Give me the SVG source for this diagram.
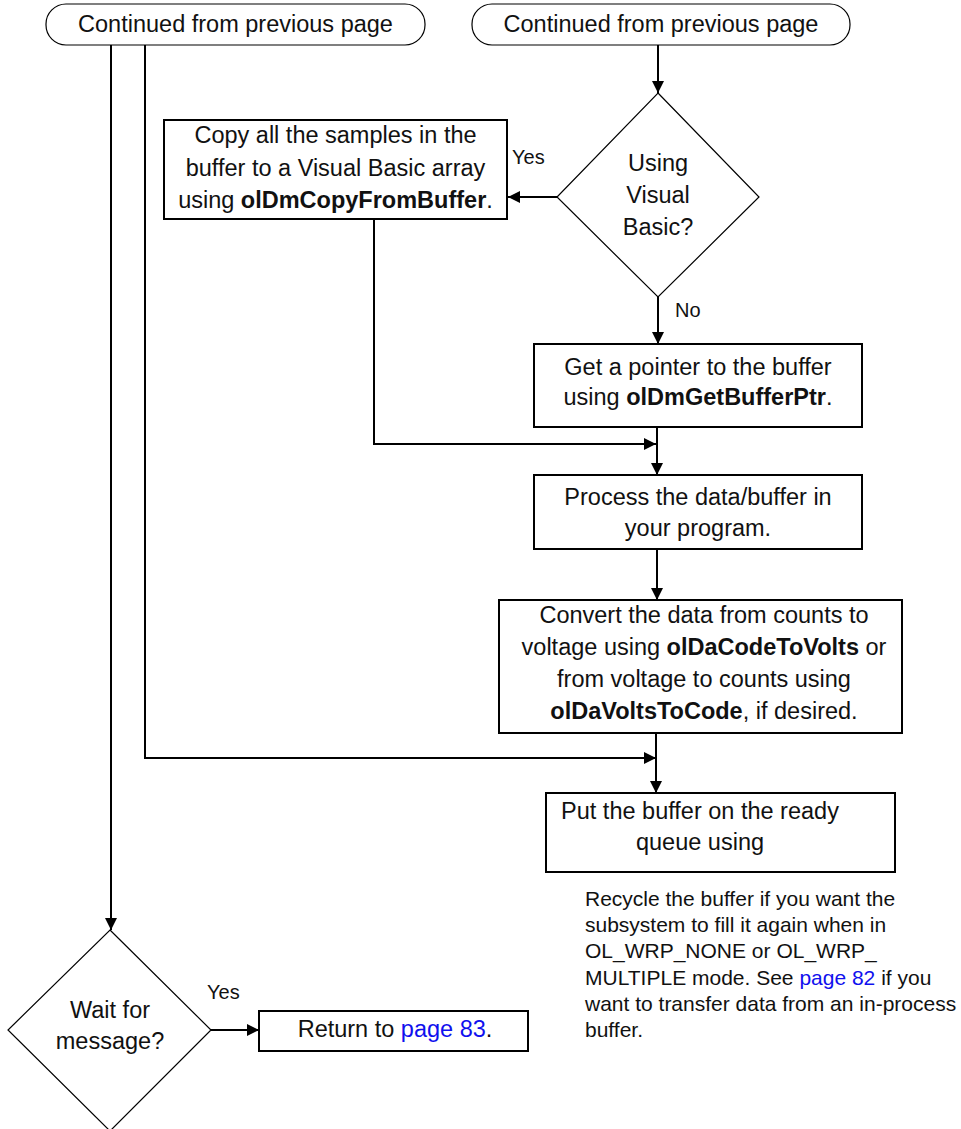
<svg xmlns="http://www.w3.org/2000/svg" width="961" height="1129" viewBox="0 0 961 1129">
<style>
text{font-family:"Liberation Sans",Arial,sans-serif;fill:#111}
.t{font-size:23.5px;text-anchor:middle}
.s{font-size:20px}
.n{font-size:21px}
.b{font-weight:bold}
.lk{fill:#1010ee}
.box{fill:#fff;stroke:#000;stroke-width:2}
.dia{fill:#fff;stroke:#000;stroke-width:1.2}
.term{fill:#fff;stroke:#000;stroke-width:1.2}
.c{fill:none;stroke:#000;stroke-width:2}
</style>
<defs>
<marker id="ah" markerUnits="userSpaceOnUse" markerWidth="14" markerHeight="14" viewBox="0 0 14 14" refX="13" refY="7" orient="auto">
<path d="M1,1 L13,7 L1,13 Z" fill="#000"/>
</marker>
</defs>
<g id="connectors">
<path class="c" d="M658,45 V93" marker-end="url(#ah)"/>
<path class="c" d="M557,197 H508" marker-end="url(#ah)"/>
<path class="c" d="M658,297 V344" marker-end="url(#ah)"/>
<path class="c" d="M374,219 V444 H656" marker-end="url(#ah)"/>
<path class="c" d="M657,427 V475" marker-end="url(#ah)"/>
<path class="c" d="M657,549 V600" marker-end="url(#ah)"/>
<path class="c" d="M145,45 V758 H656" marker-end="url(#ah)"/>
<path class="c" d="M656,733 V793" marker-end="url(#ah)"/>
<path class="c" d="M111,45 V930" marker-end="url(#ah)"/>
<path class="c" d="M211,1030 H259" marker-end="url(#ah)"/>
<text class="s" x="512" y="164">Yes</text>
<text class="s" x="675" y="317">No</text>
<text class="s" x="207" y="999">Yes</text>
</g>
<g id="start-left">
<rect class="term" x="46" y="4" width="379" height="41" rx="20" ry="20"/>
<text class="t" x="235.5" y="32">Continued from previous page</text>
</g>
<g id="start-right">
<rect class="term" x="472" y="4" width="378" height="41" rx="20" ry="20"/>
<text class="t" x="661" y="32">Continued from previous page</text>
</g>
<g id="using-vb">
<polygon class="dia" points="658,93 759,197 658,297 557,197"/>
<text class="t" x="658" y="171">Using</text>
<text class="t" x="658" y="203">Visual</text>
<text class="t" x="658" y="235">Basic?</text>
</g>
<g id="copy-buffer">
<rect class="box" x="164" y="120" width="343" height="99"/>
<text class="t" x="335.5" y="143">Copy all the samples in the</text>
<text class="t" x="335.5" y="176">buffer to a Visual Basic array</text>
<text class="t" x="335.5" y="208">using <tspan class="b">olDmCopyFromBuffer</tspan>.</text>
</g>
<g id="get-pointer">
<rect class="box" x="534" y="344" width="328" height="83"/>
<text class="t" x="698" y="375">Get a pointer to the buffer</text>
<text class="t" x="698" y="405">using <tspan class="b">olDmGetBufferPtr</tspan>.</text>
</g>
<g id="process">
<rect class="box" x="534" y="475" width="328" height="74"/>
<text class="t" x="698" y="505">Process the data/buffer in</text>
<text class="t" x="698" y="536">your program.</text>
</g>
<g id="convert">
<rect class="box" x="499" y="600" width="403" height="133"/>
<text class="t" x="704" y="623">Convert the data from counts to</text>
<text class="t" x="704" y="655">voltage using <tspan class="b">olDaCodeToVolts</tspan> or</text>
<text class="t" x="704" y="687">from voltage to counts using</text>
<text class="t" x="704" y="719"><tspan class="b">olDaVoltsToCode</tspan>, if desired.</text>
</g>
<g id="put-buffer">
<rect class="box" x="546" y="793" width="349" height="79"/>
<text class="t" x="700" y="819">Put the buffer on the ready</text>
<text class="t" x="700" y="850">queue using</text>
</g>
<g id="note">
<text class="n" x="585" y="906">Recycle the buffer if you want the</text>
<text class="n" x="585" y="932">subsystem to fill it again when in</text>
<text class="n" x="585" y="958">OL_WRP_NONE or OL_WRP_</text>
<text class="n" x="585" y="985">MULTIPLE mode. See <tspan class="lk">page 82</tspan> if you</text>
<text class="n" x="585" y="1011">want to transfer data from an in-process</text>
<text class="n" x="585" y="1037">buffer.</text>
</g>
<g id="wait-message">
<polygon class="dia" points="110,930 211,1030 110,1131 8,1030"/>
<text class="t" x="110" y="1018">Wait for</text>
<text class="t" x="110" y="1049">message?</text>
</g>
<g id="return">
<rect class="box" x="259" y="1011" width="269" height="40"/>
<text class="t" x="395" y="1037">Return to <tspan class="lk">page 83</tspan>.</text>
</g>
</svg>
